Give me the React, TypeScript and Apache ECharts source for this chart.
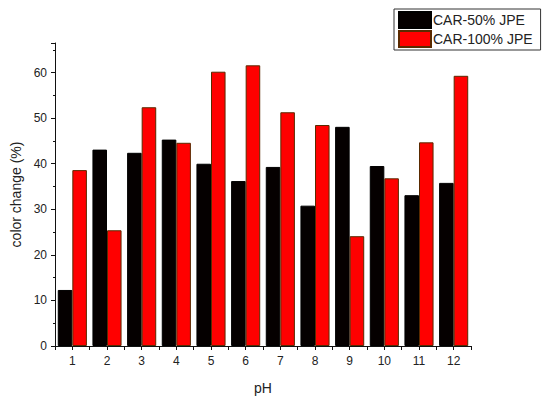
import React, { useEffect, useRef } from "react";
import * as echarts from "echarts";

const categories = ["1", "2", "3", "4", "5", "6", "7", "8", "9", "10", "11", "12"];
const car50 = [12.3, 43.1, 42.4, 45.3, 40.0, 36.2, 39.3, 30.8, 48.1, 39.5, 33.1, 35.8];
const car100 = [38.6, 25.4, 52.4, 44.6, 60.2, 61.6, 51.3, 48.5, 24.1, 36.8, 44.7, 59.3];
const seriesNames = ["CAR-50% JPE", "CAR-100% JPE"];
const xTitle = "pH";
const yTitle = "color change (%)";

export default function App() {
  const ref = useRef<HTMLDivElement>(null);
  useEffect(() => {
    if (!ref.current) return;
    const chart = echarts.init(ref.current, null, { renderer: "svg" });
    const font = "Arial, 'Liberation Sans', sans-serif";
    chart.setOption({
      animation: false,
      textStyle: { fontFamily: font },
      grid: { left: 55, right: 79, top: 43, bottom: 50, containLabel: false },
      legend: {
        orient: "vertical",
        left: 394,
        top: 9,
        padding: [2, 8, 2, 4],
        itemWidth: 32,
        itemHeight: 16,
        itemGap: 1,
        icon: "rect",
        borderColor: "#333",
        borderWidth: 1,
        textStyle: { fontSize: 14, color: "#222", fontFamily: font, padding: [0, 0, 0, -3] },
        data: seriesNames,
      },
      xAxis: [
        {
          type: "category",
          data: categories,
          boundaryGap: true,
          axisLine: { lineStyle: { color: "#111", width: 1 } },
          axisTick: { show: false },
          axisLabel: { color: "#222", fontSize: 12, margin: 9 },
          name: xTitle,
          nameLocation: "middle",
          nameGap: 35,
          nameTextStyle: { fontSize: 14, color: "#222" },
        },
        {
          type: "value",
          position: "bottom",
          min: 0.5,
          max: 12.5,
          interval: 0.5,
          axisLine: { show: false },
          axisTick: { show: true, length: 4, lineStyle: { color: "#111" } },
          axisLabel: { show: false },
          splitLine: { show: false },
        },
      ],
      yAxis: {
        type: "value",
        min: 0,
        max: 66.5,
        interval: 10,
        axisLine: { show: true, lineStyle: { color: "#111", width: 1 } },
        axisTick: { show: true, length: 4, lineStyle: { color: "#111" } },
        minorTick: { show: true, splitNumber: 2, length: 2, lineStyle: { color: "#111" } },
        splitLine: { show: false },
        axisLabel: { color: "#222", fontSize: 12, margin: 8, showMaxLabel: false },
        name: yTitle,
        nameLocation: "middle",
        nameGap: 25,
        nameTextStyle: { fontSize: 14, color: "#222" },
      },
      series: [
        {
          name: seriesNames[0],
          type: "bar",
          data: car50,
          barGap: "0%",
          barCategoryGap: "16%",
          itemStyle: { color: "#050000", borderColor: "#000", borderWidth: 1 },
        },
        {
          name: seriesNames[1],
          type: "bar",
          data: car100,
          barGap: "0%",
          barCategoryGap: "16%",
          itemStyle: { color: "#ff0000", borderColor: "#5a2a00", borderWidth: 1 },
        },
      ],
    });
    return () => chart.dispose();
  }, []);
  return <div ref={ref} style={{ width: 550, height: 400, position: "absolute", left: 0, top: 0, background: "#fff" }} />;
}
